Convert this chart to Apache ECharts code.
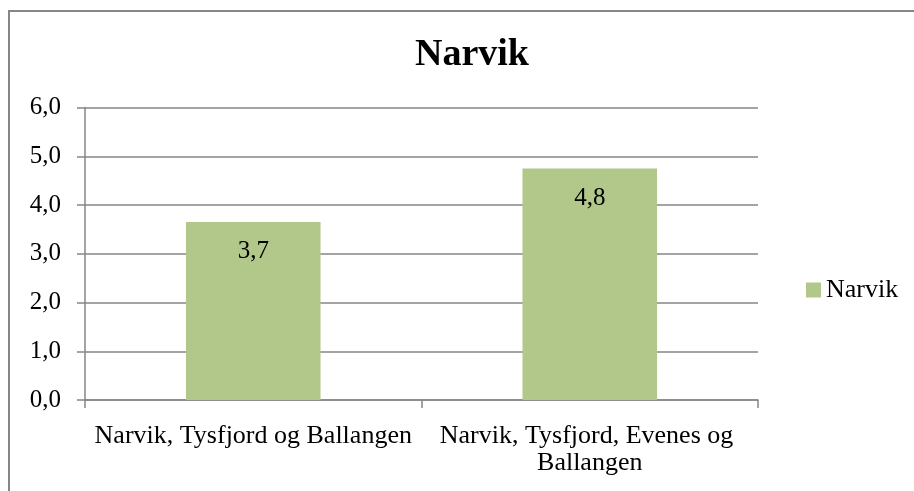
<!DOCTYPE html>
<html>
<head>
<meta charset="utf-8">
<script src="https://cdn.jsdelivr.net/npm/echarts@6/dist/echarts.min.js"></script>
<style>
  html, body { margin: 0; padding: 0; background: #fff; }
  #chart { width: 914px; height: 491px; }
</style>
</head>
<body>
<div id="chart"></div>
<script>
// Regions and their values
const categories = ['Narvik, Tysfjord og Ballangen', 'Narvik, Tysfjord, Evenes og Ballangen'];
const seriesName = 'Narvik';
const values = [3.65, 4.75];
const yTicks = { min: 0, max: 6, interval: 1 };

const fontFamily = '"Liberation Serif", "DejaVu Serif", serif';
const fmt = v => (Math.round(v * 10) / 10).toFixed(1).replace('.', ',');

const chart = echarts.init(document.getElementById('chart'), null, { renderer: 'canvas' });
chart.setOption({
  animation: false,
  backgroundColor: '#ffffff',
  textStyle: { fontFamily: fontFamily, color: '#000' },
  graphic: [{
    type: 'rect',
    shape: { x: 9, y: 11, width: 1000, height: 1000 },
    style: { fill: 'none', stroke: '#868686', lineWidth: 2 },
    silent: true
  }],
  title: {
    text: seriesName,
    left: 467,
    top: 31,
    textAlign: 'center',
    textStyle: { fontFamily: fontFamily, fontSize: 38, fontWeight: 'bold', color: '#000' }
  },
  legend: {
    data: [seriesName],
    left: 801,
    top: 272,
    itemWidth: 15,
    itemHeight: 15,
    icon: 'rect',
    textStyle: { fontFamily: fontFamily, fontSize: 26, color: '#000' }
  },
  grid: { left: 85, right: 156, top: 107.5, bottom: 91, containLabel: false },
  xAxis: {
    type: 'category',
    data: categories,
    axisLine: { show: true, lineStyle: { color: '#868686', width: 1.5 } },
    axisTick: { show: true, length: 8, lineStyle: { color: '#868686', width: 1.5 } },
    axisLabel: {
      interval: 0,
      margin: 23,
      width: 336,
      overflow: 'break',
      lineHeight: 27,
      fontFamily: fontFamily,
      fontSize: 26,
      color: '#000'
    },
    splitLine: { show: false }
  },
  yAxis: {
    type: 'value',
    min: yTicks.min,
    max: yTicks.max,
    interval: yTicks.interval,
    axisLine: { show: true, lineStyle: { color: '#868686', width: 1.5 } },
    axisTick: { show: true, length: 8, lineStyle: { color: '#868686', width: 1.5 } },
    axisLabel: {
      margin: 24,
      fontFamily: fontFamily,
      fontSize: 25,
      color: '#000',
      formatter: v => v.toFixed(1).replace('.', ',')
    },
    splitLine: { show: true, lineStyle: { color: '#868686', width: 1.5 } }
  },
  series: [{
    name: seriesName,
    type: 'bar',
    data: values,
    barWidth: '40%',
    itemStyle: { color: '#B2C88B' },
    label: {
      show: true,
      position: 'insideTop',
      distance: 17,
      fontFamily: fontFamily,
      fontSize: 25,
      color: '#000',
      formatter: p => fmt(p.value)
    }
  }]
});
</script>
</body>
</html>
